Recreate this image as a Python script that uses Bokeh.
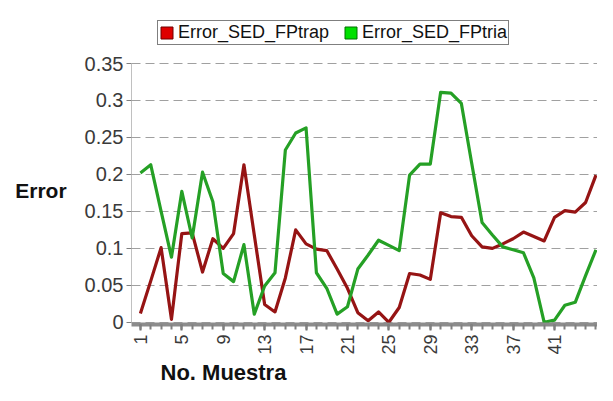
from bokeh.plotting import figure
from bokeh.models import (Range1d, FixedTicker, Legend, LegendItem, Title,
                          ColumnDataSource)
from bokeh.embed import file_html
from bokeh.resources import INLINE

# ---- data ----
samples = list(range(1, 46))
fptrap = [0.012, 0.056, 0.101, 0.004, 0.120, 0.121, 0.068, 0.113, 0.100, 0.120,
          0.213, 0.118, 0.024, 0.014, 0.060, 0.125, 0.106, 0.099, 0.097, 0.072,
          0.046, 0.013, 0.002, 0.014, 0.000, 0.020, 0.066, 0.064, 0.058, 0.148,
          0.143, 0.142, 0.117, 0.102, 0.100, 0.106, 0.113, 0.122, 0.116, 0.110,
          0.142, 0.151, 0.149, 0.162, 0.199]
fptria = [0.202, 0.213, 0.150, 0.088, 0.177, 0.114, 0.203, 0.163, 0.066, 0.055,
          0.105, 0.011, 0.049, 0.067, 0.233, 0.256, 0.263, 0.067, 0.046, 0.011,
          0.021, 0.072, 0.091, 0.111, 0.104, 0.097, 0.199, 0.214, 0.214, 0.311,
          0.310, 0.296, 0.215, 0.135, 0.118, 0.102, 0.098, 0.094, 0.060, 0.000,
          0.003, 0.023, 0.027, 0.063, 0.098]
series_names = ["Error_SED_FPtrap", "Error_SED_FPtria"]
x_ticks = [1, 5, 9, 13, 17, 21, 25, 29, 33, 37, 41]
y_ticks = [0, 0.05, 0.1, 0.15, 0.2, 0.25, 0.3, 0.35]
y_tick_labels = ["0", "0.05", "0.1", "0.15", "0.2", "0.25", "0.3", "0.35"]
x_title = "No. Muestra"
y_title = "Error"

FONT = "Liberation Sans"

src = ColumnDataSource(data=dict(x=samples, trap=fptrap, tria=fptria))

# frame reaches up to the legend so the legend can sit inside it
p = figure(width=597, height=384, output_backend="svg", toolbar_location=None,
           x_range=Range1d(0.14, 45.15), y_range=Range1d(-0.003, 0.419),
           min_border_left=131, min_border_right=0, min_border_top=12,
           min_border_bottom=60, background_fill_color="white",
           border_fill_color="white")
p.outline_line_color = None

# grid
p.xgrid.grid_line_color = None
p.ygrid.ticker = FixedTicker(ticks=y_ticks)
p.ygrid.grid_line_color = "#a0a0a0"
p.ygrid.grid_line_dash = "9 5"
p.ygrid.grid_line_width = 1

# y axis
p.yaxis.ticker = FixedTicker(ticks=y_ticks)
p.yaxis.bounds = (0, 0.35)
p.yaxis.major_label_overrides = {t: s for t, s in zip(y_ticks, y_tick_labels)}
p.yaxis.major_label_text_font = FONT
p.yaxis.major_label_text_font_size = "20px"
p.yaxis.major_label_text_color = "#3a3a3a"
p.yaxis.axis_line_color = "#c0c0c0"
p.yaxis.major_tick_line_color = "#808080"
p.yaxis.major_tick_out = 5
p.yaxis.major_tick_in = 0
p.yaxis.minor_tick_line_color = None
p.yaxis.major_label_standoff = 3
# the blank first line lowers the title to the height it has in the reference
p.yaxis.axis_label = "\n" + y_title
p.yaxis.axis_label_orientation = "horizontal"
p.yaxis.axis_label_text_font = FONT
p.yaxis.axis_label_text_font_size = "21px"
p.yaxis.axis_label_text_font_style = "bold"
p.yaxis.axis_label_text_color = "#111111"
p.yaxis.axis_label_text_line_height = 1.9
p.yaxis.axis_label_standoff = 15

# x axis (the "floor")
p.xaxis.ticker = FixedTicker(ticks=x_ticks, minor_ticks=samples)
p.xaxis.major_label_orientation = 3.14159265 / 2
p.xaxis.major_label_text_font = FONT
p.xaxis.major_label_text_font_size = "18px"
p.xaxis.major_label_text_color = "#3a3a3a"
p.xaxis.axis_line_color = "#8c8c8c"
p.xaxis.axis_line_width = 4
p.xaxis.major_tick_line_color = "#707070"
p.xaxis.major_tick_line_width = 2
p.xaxis.major_tick_out = 6
p.xaxis.major_tick_in = 0
p.xaxis.minor_tick_line_color = "#808080"
p.xaxis.minor_tick_line_width = 2
p.xaxis.minor_tick_out = 5
p.xaxis.minor_tick_in = 0
p.xaxis.major_label_standoff = 4

# x title, left of centre under the axis like the reference
p.add_layout(Title(text=x_title, align="left", offset=29, standoff=0,
                   vertical_align="bottom", text_font=FONT,
                   text_font_size="22px", text_font_style="bold",
                   text_color="#111111"), "below")

# series
p.line("x", "trap", source=src, line_color="#961414", line_width=3.2,
       line_join="round")
p.line("x", "tria", source=src, line_color="#25a025", line_width=3.2,
       line_join="round")

# hidden bar renderers: only used to give the legend square swatches
sw1 = p.vbar(x="x", top="trap", width=0.8, source=src, visible=False,
             fill_color="#e00000", line_color="#700000")
sw2 = p.vbar(x="x", top="tria", width=0.8, source=src, visible=False,
             fill_color="#00e000", line_color="#007000")
legend = Legend(items=[LegendItem(label=series_names[0], renderers=[sw1]),
                       LegendItem(label=series_names[1], renderers=[sw2])],
                orientation="horizontal", location=(26, 279),
                border_line_color="black", border_line_width=1,
                background_fill_color="white", background_fill_alpha=1,
                padding=1, spacing=14, margin=0, glyph_width=15, glyph_height=15,
                label_standoff=4, label_height=15,
                label_text_font=FONT, label_text_font_size="18px",
                label_text_color="#111111", inactive_fill_alpha=0)
p.add_layout(legend)

open("out.html", "w").write(file_html(p, INLINE))
